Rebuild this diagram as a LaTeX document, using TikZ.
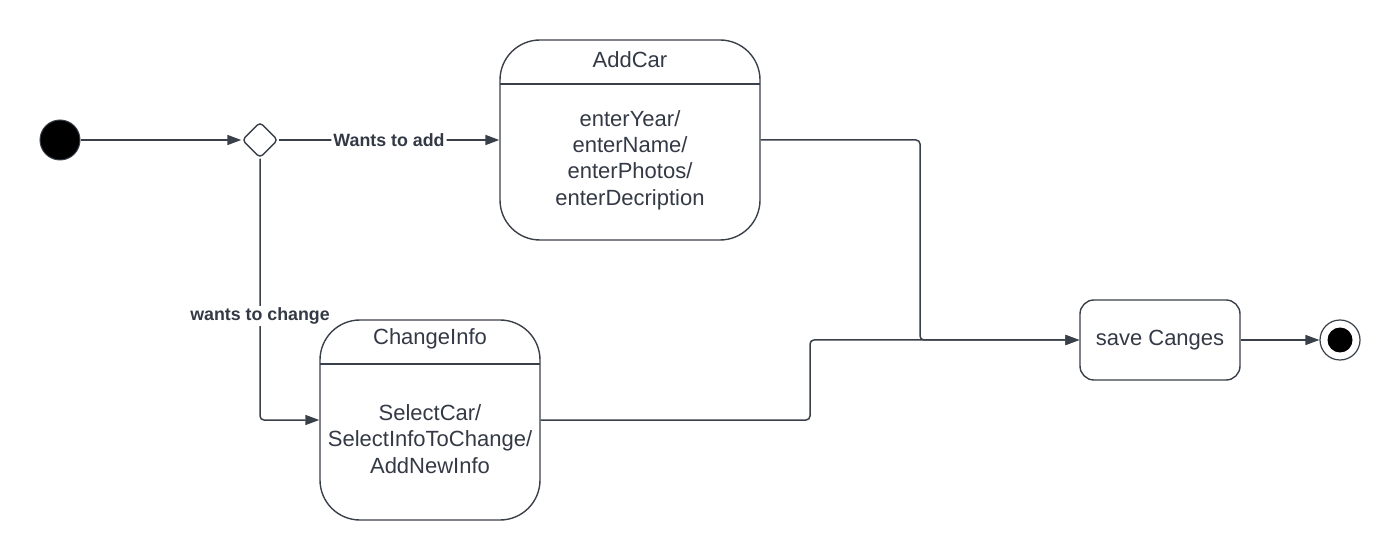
\documentclass[tikz,border=0pt]{standalone}
\usepackage{fontspec}
\setmainfont{Liberation Sans}
\usetikzlibrary{arrows.meta,shapes.geometric}
\definecolor{ln}{HTML}{3A404A}
\definecolor{tx}{HTML}{333A45}
\begin{document}
\begin{tikzpicture}[x=0.5pt,y=-0.5pt,
  conn/.style={draw=ln,line width=0.75pt,rounded corners=2pt,-{Triangle[length=7pt,width=5pt]}},
  statebox/.style={draw=ln,line width=0.7pt,rounded corners=20pt,inner sep=0pt},
  lbl/.style={font=\fontsize{8.9}{10}\selectfont\bfseries,text=tx,fill=white,inner sep=1pt},
  body/.style={font=\fontsize{11}{13.2}\selectfont,text=tx,align=center,inner sep=0pt}]
\useasboundingbox (0,0) rectangle (1400,560);
% initial
\node[circle,fill=black,draw=ln,line width=0.5pt,minimum size=20pt,inner sep=0pt] (start) at (60,140) {};
% decision
\node[diamond,draw=ln,line width=0.7pt,rounded corners=2pt,minimum size=18pt,inner sep=0pt,fill=white] (dec) at (260,140) {};
% AddCar
\node[statebox,minimum width=130pt,minimum height=100pt] (add) at (630,140) {};
\draw[ln,line width=0.7pt] (500,84) -- (760,84);
\node[body] (addt) at (630,60) {AddCar};
\node[body] (addb) at (630,160) {enterYear/\\enterName/\\enterPhotos/\\enterDecription};
% ChangeInfo
\node[statebox,minimum width=110pt,minimum height=100pt] (chg) at (430,420) {};
\draw[ln,line width=0.7pt] (320,364) -- (540,364);
\node[body] (chgt) at (430,339) {ChangeInfo};
\node[body] (chgb) at (430,439) {SelectCar/\\SelectInfoToChange/\\AddNewInfo};
% save
\node[draw=ln,line width=0.7pt,rounded corners=7pt,minimum width=80pt,minimum height=40pt,inner sep=0pt,body] (save) at (1160,340) {save Canges};
% final
\node[circle,draw=ln,line width=0.6pt,minimum size=20pt,inner sep=0pt] (fin) at (1340,340) {};
\node[circle,fill=black,minimum size=12.5pt,inner sep=0pt] (finin) at (1340,340) {};
% connectors
\draw[conn] (start) -- (dec.west);
\draw[conn,line width=0.9pt] (dec.east) -- node[lbl] (l1) {Wants to add} (add.west);
\coordinate (c1) at (260,420);
\draw[conn] (dec.south) -- (c1) -- (chg.west);
\node[lbl] (l2) at (260,316) {wants to change};
\coordinate (c2) at (920,140);
\coordinate (c3) at (920,340);
\draw[conn] (add.east) -- (c2) -- (c3) -- (save.west);
\coordinate (c4) at (810,420);
\coordinate (c5) at (810,340);
\draw[conn] (chg.east) -- (c4) -- (c5) -- (save.west);
\draw[conn] (save.east) -- (fin.west);
\end{tikzpicture}
\end{document}
